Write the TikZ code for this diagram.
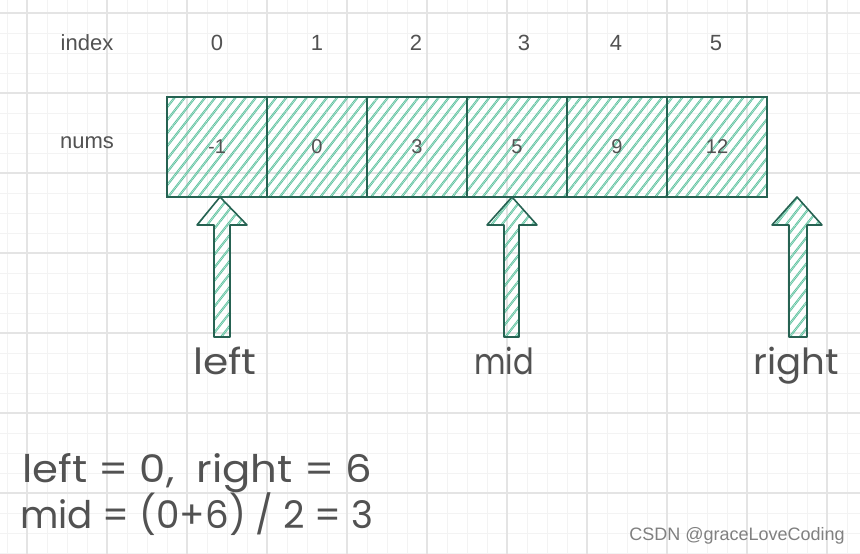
\documentclass[tikz,border=0pt]{standalone}
\usepackage{fontspec}
\setmainfont{Liberation Sans}
\newfontfamily\handfont{Poppins}
\usetikzlibrary{patterns.meta}
\definecolor{strokec}{RGB}{38,98,82}
\definecolor{hatchc}{RGB}{95,195,160}
\definecolor{txtc}{RGB}{82,82,82}
\definecolor{gridmin}{RGB}{243,243,243}
\definecolor{gridmaj}{RGB}{228,228,228}
\begin{document}
\begin{tikzpicture}[x=1pt,y=-1pt,
  hatchfill/.style={preaction={pattern={Lines[angle=52,distance=8pt,xshift=1.6pt,line width=0.8pt]}, pattern color=hatchc},
    pattern={Lines[angle=52,distance=8pt,line width=0.8pt]}, pattern color=hatchc},
  cell/.style={draw=strokec, line width=1.8pt, minimum width=100pt, minimum height=100pt, inner sep=0pt, hatchfill, text=txtc, font=\fontsize{20}{20}\selectfont},
  lbl/.style={text=txtc, font=\fontsize{22}{22}\selectfont, inner sep=0pt},
  blockarrow/.style={draw=strokec, line width=1.6pt, line join=round, hatchfill},
  hand/.style={text=txtc, font=\handfont\fontsize{36}{36}\selectfont, inner sep=0pt},
  gmin/.style={draw=gridmin, line width=0.8pt},
  gmaj/.style={draw=gridmaj, line width=1.2pt}]
\useasboundingbox (0,0) rectangle (860,554);
\fill[white] (0,0) rectangle (860,554);
% grid
\foreach \x in {7,27,...,847} \draw[gmin] (\x,0) -- (\x,554);
\foreach \y in {13,33,...,553} \draw[gmin] (0,\y) -- (860,\y);
\foreach \x in {27,107,...,827} \draw[gmaj] (\x,0) -- (\x,554);
\foreach \y in {13,93,...,493} \draw[gmaj] (0,\y) -- (860,\y);
% labels
\node[lbl] (idx) at (87,43) {index};
\node[lbl] (numsl) at (87,143) {nums};
\foreach \i/\xx in {0/217,1/317,2/416,3/524,4/616,5/716}
  \node[lbl] (i\i) at (\xx,43) {\i};
% cells
\foreach \i/\v in {0/-1,1/0,2/3,3/5,4/9,5/12}
  \node[cell] (c\i) at (217+100*\i,147) {\v};
% arrows
\draw[blockarrow] (220,197) -- (247,225) -- (230,225) -- (230,337) -- (214,337) -- (214,225) -- (197,225) -- cycle;
\draw[blockarrow] (512,197) -- (537,225) -- (519,225) -- (519,337) -- (504,337) -- (504,225) -- (487,225) -- cycle;
\draw[blockarrow] (797,197) -- (822,225) -- (807,225) -- (807,337) -- (789,337) -- (789,225) -- (772,225) -- cycle;
% handwritten labels
\node[hand, anchor=base, xscale=1.13] (lleft) at (225,374) {left};
\node[hand, anchor=base, xscale=0.85] (lmid) at (504,374) {mid};
\node[hand, anchor=base, xscale=1.03] (lright) at (796,374) {right};
\node[hand, anchor=base west, font=\handfont\fontsize{38}{38}\selectfont, xscale=1.10] (eq1) at (22,482) {left = 0,\ \ right = 6};
\node[hand, anchor=base west, font=\handfont\fontsize{38}{38}\selectfont, xscale=0.98] (eq2) at (20,528) {mid = (0+6) / 2 = 3};
% watermark
\node[text=black!50, font=\fontsize{18}{18}\selectfont, anchor=base east, inner sep=0pt] (wm) at (845,540) {CSDN @graceLoveCoding};
\end{tikzpicture}
\end{document}
